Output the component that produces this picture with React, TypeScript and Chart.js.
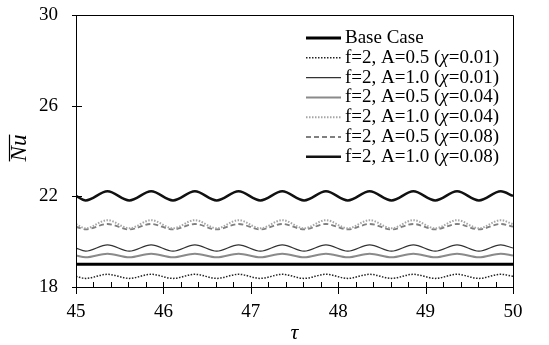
import React, { useEffect, useRef } from 'react';
import { Chart, registerables } from 'chart.js';

Chart.register(...registerables);

const tau = [45, 45.11, 45.36, 45.61, 45.86, 46.11, 46.36, 46.61, 46.86, 47.11, 47.36, 47.61, 47.86, 48.11, 48.36, 48.61, 48.86, 49.11, 49.36, 49.61, 49.86, 50];

const baseCase = [19.0, 19.0, 19.0, 19.0, 19.0, 19.0, 19.0, 19.0, 19.0, 19.0, 19.0, 19.0, 19.0, 19.0, 19.0, 19.0, 19.0, 19.0, 19.0, 19.0, 19.0, 19.0];
const a05c001 = [18.47, 18.38, 18.56, 18.38, 18.56, 18.38, 18.56, 18.38, 18.56, 18.38, 18.56, 18.38, 18.56, 18.38, 18.56, 18.38, 18.56, 18.38, 18.56, 18.38, 18.56, 18.47];
const a10c001 = [19.72, 19.58, 19.86, 19.58, 19.86, 19.58, 19.86, 19.58, 19.86, 19.58, 19.86, 19.58, 19.86, 19.58, 19.86, 19.58, 19.86, 19.58, 19.86, 19.58, 19.86, 19.72];
const a05c004 = [19.39, 19.31, 19.47, 19.31, 19.47, 19.31, 19.47, 19.31, 19.47, 19.31, 19.47, 19.31, 19.47, 19.31, 19.47, 19.31, 19.47, 19.31, 19.47, 19.31, 19.47, 19.39];
const a10c004 = [20.77, 20.59, 20.95, 20.59, 20.95, 20.59, 20.95, 20.59, 20.95, 20.59, 20.95, 20.59, 20.95, 20.59, 20.95, 20.59, 20.95, 20.59, 20.95, 20.59, 20.95, 20.77];
const a05c008 = [20.66, 20.54, 20.78, 20.54, 20.78, 20.54, 20.78, 20.54, 20.78, 20.54, 20.78, 20.54, 20.78, 20.54, 20.78, 20.54, 20.78, 20.54, 20.78, 20.54, 20.78, 20.66];
const a10c008 = [22.02, 21.82, 22.22, 21.82, 22.22, 21.82, 22.22, 21.82, 22.22, 21.82, 22.22, 21.82, 22.22, 21.82, 22.22, 21.82, 22.22, 21.82, 22.22, 21.82, 22.22, 22.02];

const legendPre = ['Base Case', 'f=2, A=0.5 (', 'f=2, A=1.0 (', 'f=2, A=0.5 (', 'f=2, A=1.0 (', 'f=2, A=0.5 (', 'f=2, A=1.0 ('];
const legendPost = ['', '=0.01)', '=0.01)', '=0.04)', '=0.04)', '=0.08)', '=0.08)'];

const yTicks = [18, 22, 26, 30];
const xMajor = [45, 46, 47, 48, 49, 50];
const xMinorStep = 0.2;

const SERIF = "'Liberation Serif', 'Times New Roman', serif";

const toPts = (ys: number[]) => ys.map((y, i) => ({ x: tau[i], y }));

const overlay = {
  id: 'overlay',
  afterDraw(chart: any) {
    const { ctx, chartArea: a, scales } = chart;
    const xs = scales.x;
    const ys = scales.y;
    ctx.save();
    // frame
    ctx.strokeStyle = '#000';
    ctx.lineWidth = 1;
    ctx.setLineDash([]);
    ctx.beginPath();
    ctx.rect(Math.round(a.left) + 0.5, Math.round(a.top) + 0.5, Math.round(a.right - a.left), Math.round(a.bottom - a.top));
    ctx.stroke();
    // y ticks crossing
    ctx.beginPath();
    yTicks.forEach((v) => {
      const py = Math.round(ys.getPixelForValue(v)) + 0.5;
      ctx.moveTo(a.left - 4, py);
      ctx.lineTo(a.left + 6, py);
    });
    // x major ticks
    xMajor.forEach((v) => {
      const px = Math.round(xs.getPixelForValue(v)) + 0.5;
      ctx.moveTo(px, a.bottom - 5);
      ctx.lineTo(px, a.bottom + 7);
    });
    // x minor ticks
    for (let k = 0; k < xMajor.length - 1; k++) {
      for (let j = 1; j < 5; j++) {
        const v = xMajor[k] + j * xMinorStep;
        const px = Math.round(xs.getPixelForValue(v)) + 0.5;
        ctx.moveTo(px, a.bottom - 5);
        ctx.lineTo(px, a.bottom);
      }
    }
    ctx.stroke();

    // x title
    ctx.fillStyle = '#000';
    ctx.font = `italic 22px ${SERIF}`;
    ctx.textAlign = 'center';
    ctx.textBaseline = 'alphabetic';
    ctx.fillText('τ', (a.left + a.right) / 2, 339);

    // y title with overline
    ctx.save();
    ctx.translate(26, 148);
    ctx.rotate(-Math.PI / 2);
    ctx.font = `italic 23px ${SERIF}`;
    ctx.textAlign = 'center';
    ctx.fillText('Nu', 0, 0);
    const w = ctx.measureText('Nu').width;
    ctx.beginPath();
    ctx.lineWidth = 1.2;
    ctx.moveTo(-w / 2, -16.5);
    ctx.lineTo(w / 2, -16.5);
    ctx.stroke();
    ctx.restore();

    // legend
    const ds = chart.data.datasets;
    const x0 = 306, x1 = 341, tx = 345, y0 = 38, dy = 19.8;
    ds.forEach((d: any, i: number) => {
      const cy = y0 + i * dy;
      ctx.beginPath();
      ctx.strokeStyle = d.borderColor;
      ctx.lineWidth = d.borderWidth;
      ctx.setLineDash(d.borderDash || []);
      ctx.moveTo(x0, cy);
      ctx.lineTo(x1, cy);
      ctx.stroke();
      ctx.setLineDash([]);
      ctx.fillStyle = '#000';
      ctx.textAlign = 'left';
      ctx.textBaseline = 'middle';
      ctx.font = `19px ${SERIF}`;
      let cx = tx;
      ctx.fillText(legendPre[i], cx, cy);
      cx += ctx.measureText(legendPre[i]).width;
      if (legendPost[i]) {
        ctx.font = `italic 19px ${SERIF}`;
        ctx.fillText('χ', cx, cy);
        cx += ctx.measureText('χ').width;
        ctx.font = `19px ${SERIF}`;
        ctx.fillText(legendPost[i], cx, cy);
      }
    });
    ctx.restore();
  },
};

export default function App() {
  const ref = useRef<HTMLCanvasElement | null>(null);
  useEffect(() => {
    document.body.style.margin = '0';
    const canvas = ref.current;
    if (!canvas) return;
    const common = { pointRadius: 0, cubicInterpolationMode: 'monotone' as const, fill: false };
    const chart = new Chart(canvas, {
      type: 'line',
      data: {
        datasets: [
          { label: 'Base Case', data: toPts(baseCase), borderColor: '#000', borderWidth: 3, ...common },
          { label: 'f=2, A=0.5 (χ=0.01)', data: toPts(a05c001), borderColor: '#222', borderWidth: 1.5, borderDash: [1.5, 1.5], ...common },
          { label: 'f=2, A=1.0 (χ=0.01)', data: toPts(a10c001), borderColor: '#333', borderWidth: 1.2, ...common },
          { label: 'f=2, A=0.5 (χ=0.04)', data: toPts(a05c004), borderColor: '#8a8a8a', borderWidth: 2, ...common },
          { label: 'f=2, A=1.0 (χ=0.04)', data: toPts(a10c004), borderColor: '#a6a6a6', borderWidth: 2, borderDash: [1.5, 1.5], ...common },
          { label: 'f=2, A=0.5 (χ=0.08)', data: toPts(a05c008), borderColor: '#808080', borderWidth: 1.8, borderDash: [5, 3], ...common },
          { label: 'f=2, A=1.0 (χ=0.08)', data: toPts(a10c008), borderColor: '#111', borderWidth: 2.5, ...common },
        ],
      },
      options: {
        responsive: false,
        animation: false,
        layout: { padding: { left: 0, top: 15, right: 36, bottom: 0 } },
        plugins: { legend: { display: false }, tooltip: { enabled: false } },
        scales: {
          x: {
            type: 'linear',
            min: 45,
            max: 50,
            afterFit: (s: any) => { s.height = 58; s.paddingLeft = 0; s.paddingRight = 0; },
            grid: { display: false, drawTicks: false },
            border: { display: false },
            ticks: { stepSize: 1, padding: 14, color: '#000', font: { family: SERIF, size: 19 } },
          },
          y: {
            min: 18,
            max: 30,
            afterFit: (s: any) => { s.width = 76; s.paddingTop = 0; s.paddingBottom = 0; },
            grid: { display: false, drawTicks: false },
            border: { display: false },
            ticks: { stepSize: 4, padding: 18, color: '#000', font: { family: SERIF, size: 19 } },
          },
        },
      },
      plugins: [overlay],
    });
    return () => chart.destroy();
  }, []);
  return <canvas ref={ref} width={549} height={345} style={{ display: 'block' }} />;
}
